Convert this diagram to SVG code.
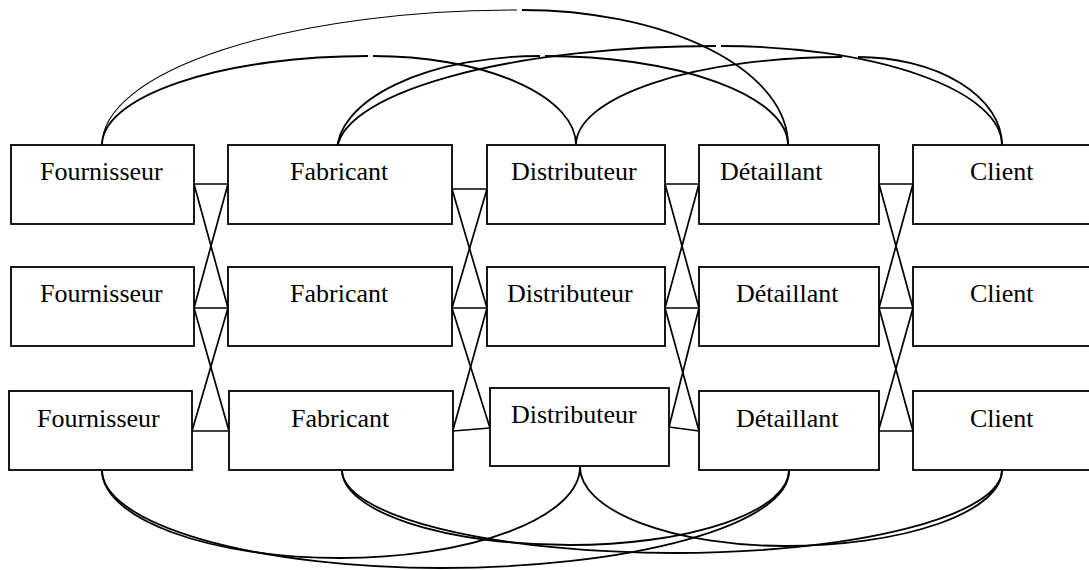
<svg xmlns="http://www.w3.org/2000/svg" width="1089" height="570" viewBox="0 0 1089 570">
<style>
.box{fill:#fff;stroke:#000;stroke-width:1.8}
.lbl{font-family:"Liberation Serif","Times New Roman",serif;font-size:26px;fill:#000}
.ln{fill:none;stroke:#000;stroke-width:1.7}
.arc{fill:none;stroke:#000;stroke-width:1.8}
.thin{fill:none;stroke:#000;stroke-width:1.1}
</style>
<rect width="1089" height="570" fill="#fff"/>
<g id="connectors">
  <!-- Fournisseur - Fabricant -->
  <line class="ln" x1="194" y1="184" x2="228" y2="184"/>
  <line class="ln" x1="194" y1="184" x2="228" y2="308"/>
  <line class="ln" x1="228" y1="184" x2="194" y2="308"/>
  <line class="ln" x1="194" y1="308" x2="228" y2="308"/>
  <line class="ln" x1="194" y1="308" x2="229" y2="431"/>
  <line class="ln" x1="228" y1="308" x2="192" y2="431"/>
  <line class="ln" x1="192" y1="431" x2="229" y2="431"/>
  <!-- Fabricant - Distributeur -->
  <line class="ln" x1="452" y1="189" x2="487" y2="189"/>
  <line class="ln" x1="452" y1="189" x2="487" y2="308"/>
  <line class="ln" x1="487" y1="189" x2="452" y2="308"/>
  <line class="ln" x1="452" y1="308" x2="487" y2="308"/>
  <line class="ln" x1="452" y1="308" x2="490" y2="428"/>
  <line class="ln" x1="487" y1="308" x2="453" y2="430"/>
  <line class="ln" x1="453" y1="431" x2="490" y2="428"/>
  <!-- Distributeur - Detaillant -->
  <line class="ln" x1="665" y1="184" x2="699" y2="184"/>
  <line class="ln" x1="665" y1="184" x2="699" y2="308"/>
  <line class="ln" x1="699" y1="184" x2="665" y2="308"/>
  <line class="ln" x1="665" y1="308" x2="699" y2="308"/>
  <line class="ln" x1="665" y1="308" x2="699" y2="431"/>
  <line class="ln" x1="699" y1="308" x2="669" y2="427"/>
  <line class="ln" x1="669" y1="427" x2="699" y2="431"/>
  <!-- Detaillant - Client -->
  <line class="ln" x1="879" y1="184" x2="913" y2="184"/>
  <line class="ln" x1="879" y1="184" x2="913" y2="308"/>
  <line class="ln" x1="913" y1="184" x2="879" y2="308"/>
  <line class="ln" x1="879" y1="308" x2="913" y2="308"/>
  <line class="ln" x1="879" y1="308" x2="913" y2="431"/>
  <line class="ln" x1="913" y1="308" x2="879" y2="429"/>
  <line class="ln" x1="879" y1="431" x2="913" y2="431"/>
  <!-- top arcs -->
  <path class="thin" d="M102,145 A415,135 0 0 1 517,10"/>
  <path class="arc" d="M522,10 A266,135 0 0 1 788,145"/>
  <path class="arc" d="M102,145 A266,89 0 0 1 368,56"/>
  <path class="arc" d="M373,56 A203,89 0 0 1 576,145"/>
  <path class="arc" d="M337,152 A203,96 0 0 1 540,56"/>
  <path class="arc" d="M545,56 A243,89 0 0 1 788,145"/>
  <path class="arc" d="M337,152 A379,106 0 0 1 716,46"/>
  <path class="arc" d="M721,46 A281,99 0 0 1 1002,145"/>
  <path class="arc" d="M576,145 A266,88 0 0 1 842,57"/>
  <path class="arc" d="M858,57 A144,88 0 0 1 1002,145"/>
  <!-- bottom arcs -->
  <path class="arc" d="M102,470 A238,88 0 0 0 340,558 A240,91 0 0 0 580,467"/>
  <path class="arc" d="M102,470 A339,98 0 0 0 441,568 A348,97 0 0 0 789,471"/>
  <path class="arc" d="M342,470 A228,75 0 0 0 570,545 A219,75 0 0 0 789,470"/>
  <path class="arc" d="M342,470 A333,83 0 0 0 675,553 A327,83 0 0 0 1002,470"/>
  <path class="arc" d="M580,467 A205,79 0 0 0 785,546 A217,76 0 0 0 1002,470"/>
</g>
<g id="fournisseur1"><rect class="box" x="11" y="145" width="183" height="79"/><text class="lbl" x="40" y="180">Fournisseur</text></g>
<g id="fabricant1"><rect class="box" x="228" y="145" width="224" height="79"/><text class="lbl" x="290" y="180">Fabricant</text></g>
<g id="distributeur1"><rect class="box" x="487" y="145" width="178" height="79"/><text class="lbl" x="511" y="180">Distributeur</text></g>
<g id="detaillant1"><rect class="box" x="699" y="145" width="180" height="79"/><text class="lbl" x="720" y="180">Détaillant</text></g>
<g id="client1"><rect class="box" x="913" y="145" width="190" height="79"/><text class="lbl" x="970" y="180">Client</text></g>

<g id="fournisseur2"><rect class="box" x="11" y="267" width="183" height="79"/><text class="lbl" x="40" y="302">Fournisseur</text></g>
<g id="fabricant2"><rect class="box" x="228" y="267" width="224" height="79"/><text class="lbl" x="290" y="302">Fabricant</text></g>
<g id="distributeur2"><rect class="box" x="487" y="267" width="178" height="79"/><text class="lbl" x="507" y="302">Distributeur</text></g>
<g id="detaillant2"><rect class="box" x="699" y="267" width="180" height="79"/><text class="lbl" x="736" y="302">Détaillant</text></g>
<g id="client2"><rect class="box" x="913" y="267" width="190" height="79"/><text class="lbl" x="970" y="302">Client</text></g>

<g id="fournisseur3"><rect class="box" x="9" y="391" width="183" height="79"/><text class="lbl" x="37" y="427">Fournisseur</text></g>
<g id="fabricant3"><rect class="box" x="229" y="391" width="224" height="79"/><text class="lbl" x="291" y="427">Fabricant</text></g>
<g id="distributeur3"><rect class="box" x="490" y="388" width="179" height="78"/><text class="lbl" x="511" y="423">Distributeur</text></g>
<g id="detaillant3"><rect class="box" x="699" y="391" width="180" height="79"/><text class="lbl" x="736" y="427">Détaillant</text></g>
<g id="client3"><rect class="box" x="913" y="391" width="190" height="79"/><text class="lbl" x="970" y="427">Client</text></g>
</svg>
